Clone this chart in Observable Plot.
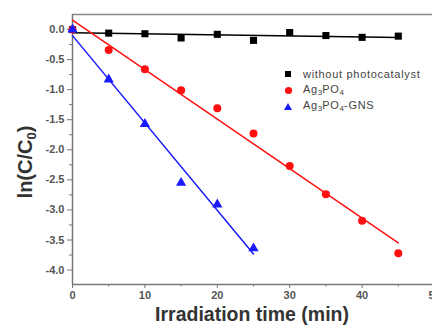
<!DOCTYPE html>
<html><head><meta charset="utf-8">
<script src="https://cdn.jsdelivr.net/npm/d3@7"></script>
<script src="https://cdn.jsdelivr.net/npm/@observablehq/plot@0.6"></script>
<style>
body{margin:0;background:#fff;}
#wrap{position:relative;width:432px;height:327px;overflow:hidden;font-family:"Liberation Sans",Arial,sans-serif;background:#fff;}
#wrap svg{display:block;}
.ylab{position:absolute;left:26px;top:162px;transform:translate(-50%,-50%) rotate(-90deg);font-weight:bold;font-size:20px;color:#333;white-space:nowrap;line-height:1;}
.ylab sub{font-size:13px;vertical-align:-4px;}
.xlab{position:absolute;left:252px;top:304px;transform:translateX(-50%);font-weight:bold;font-size:19.5px;color:#333;white-space:nowrap;line-height:1.1;}
.legend{position:absolute;left:281px;top:66px;font-size:11px;color:#444;letter-spacing:0.7px;line-height:1;}
.legend .row{position:relative;height:16px;display:flex;align-items:center;}
.legend .sym{width:14px;display:inline-flex;justify-content:center;margin-right:8px;}
.legend sub{font-size:8px;vertical-align:-2px;letter-spacing:0;}
</style></head><body><div id="wrap"></div>
<script>
const times = [0, 5, 10, 15, 20, 25, 30, 35, 40, 45];
const noCatalyst = [0, -0.06, -0.07, -0.14, -0.08, -0.18, -0.05, -0.10, -0.13, -0.11];
const ag3po4 = [0, -0.34, -0.66, -1.01, -1.31, -1.73, -2.27, -2.74, -3.18, -3.72];
const gnsTimes = [0, 5, 10, 15, 20, 25];
const ag3po4GNS = [0, -0.83, -1.57, -2.55, -2.91, -3.64];
const xTicks = [0, 10, 20, 30, 40, 50];
const xMinor = [5, 15, 25, 35, 45];
const yTicks = [-4, -3.5, -3, -2.5, -2, -1.5, -1, -0.5, 0];
const yMinor = [-4.25, -3.75, -3.25, -2.75, -2.25, -1.75, -1.25, -0.75, -0.25];
const seriesNames = ["without photocatalyst", "Ag3PO4", "Ag3PO4-GNS"];
const colors = ["#000000", "#ff1010", "#1a1aff"];

const black = times.map((t, i) => ({t, v: noCatalyst[i]}));
const red = times.map((t, i) => ({t, v: ag3po4[i]}));
const blue = gnsTimes.map((t, i) => ({t, v: ag3po4GNS[i]}));

const yMin = -4.24, yMax = 0.25;
const fmt = d => d.toFixed(1);

const plot = Plot.plot({
  width: 432, height: 327,
  marginLeft: 72, marginRight: 0, marginTop: 14, marginBottom: 43,
  x: {domain: [0, 50], range: [72, 434]},
  y: {domain: [yMin, yMax]},
  style: {fontFamily: "Liberation Sans, Arial, sans-serif", fontWeight: "bold", fontSize: "11px", color: "#555", background: "#fff", overflow: "visible"},
  marks: [
    Plot.axisX({ticks: xTicks, tickSize: 4, tickPadding: 3, tickFormat: d => String(d), label: null, stroke: "#777", fill: "#555"}),
    Plot.axisX({ticks: xMinor, tickSize: 2.5, tickFormat: () => "", label: null, stroke: "#777"}),
    Plot.axisY({ticks: yTicks, tickSize: 5, tickPadding: 3, tickFormat: fmt, label: null, stroke: "#777", fill: "#555"}),
    Plot.axisY({ticks: yMinor.filter(d => d >= yMin), tickSize: 3, tickFormat: () => "", label: null, stroke: "#777"}),
    Plot.ruleY([yMax], {stroke: "#888", strokeWidth: 1.5}),
    Plot.ruleY([yMin], {stroke: "#777", strokeWidth: 1.5}),
    Plot.ruleX([0], {stroke: "#777", strokeWidth: 1.5}),
    Plot.linearRegressionY(black, {x: "t", y: "v", stroke: colors[0], strokeWidth: 1.5, ci: 0}),
    Plot.linearRegressionY(red, {x: "t", y: "v", stroke: colors[1], strokeWidth: 1.5, ci: 0}),
    Plot.linearRegressionY(blue, {x: "t", y: "v", stroke: colors[2], strokeWidth: 1.5, ci: 0}),
    Plot.dot(black, {x: "t", y: "v", symbol: "square", r: 4, fill: colors[0]}),
    Plot.dot(red, {x: "t", y: "v", symbol: "circle", r: 4, fill: colors[1]}),
    Plot.dot(blue, {x: "t", y: "v", symbol: "triangle", r: 3.8, fill: colors[2]})
  ]
});

const wrap = document.getElementById("wrap");
wrap.appendChild(plot);

const sub = s => s.replace(/(\d)/g, "<sub>$1</sub>");

const ylab = document.createElement("div");
ylab.className = "ylab";
ylab.innerHTML = "ln(C/C<sub>0</sub>)";
wrap.appendChild(ylab);

const xlab = document.createElement("div");
xlab.className = "xlab";
xlab.textContent = "Irradiation time (min)";
wrap.appendChild(xlab);

const symSvg = [
  c => `<svg width="8" height="8"><rect x="1" y="1" width="6" height="6" fill="${c}"/></svg>`,
  c => `<svg width="9" height="9"><circle cx="4.5" cy="4.5" r="3.6" fill="${c}"/></svg>`,
  c => `<svg width="10" height="9"><path d="M5,1 L9,8 L1,8 Z" fill="${c}"/></svg>`
];
const legend = document.createElement("div");
legend.className = "legend";
legend.innerHTML = seriesNames.map((n, i) =>
  `<div class="row"><span class="sym">${symSvg[i](colors[i])}</span><span>${sub(n)}</span></div>`).join("");
wrap.appendChild(legend);
</script>
</body></html>
